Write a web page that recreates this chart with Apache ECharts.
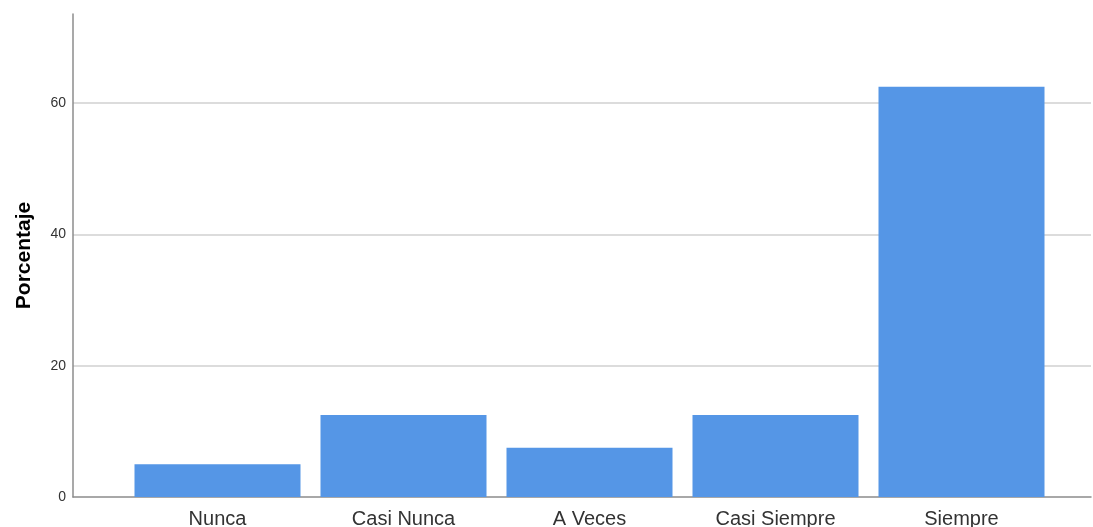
<!DOCTYPE html>
<html>
<head>
<meta charset="utf-8">
<script src="https://cdn.jsdelivr.net/npm/echarts@6/dist/echarts.min.js"></script>
<style>
html,body{margin:0;padding:0;background:#fff;}
#chart{width:1093px;height:527px;}
</style>
</head>
<body>
<div id="chart"></div>
<script>
const categories = ['Nunca', 'Casi Nunca', 'A Veces', 'Casi Siempre', 'Siempre'];
const percentages = [5.0, 12.5, 7.5, 12.5, 62.5];
const yTicks = [0, 20, 40, 60];
const yMax = 73.6;

const chart = echarts.init(document.getElementById('chart'));
const font = 'Arial, "Liberation Sans", sans-serif';
chart.setOption({
  animation: false,
  backgroundColor: '#ffffff',
  grid: [
    {left: 73, right: 2, top: 14, bottom: 30, containLabel: false, outerBoundsMode: 'none'},
    {left: 124.5, width: 930, top: 14, bottom: 30, containLabel: false, outerBoundsMode: 'none'}
  ],
  xAxis: [
    {gridIndex: 0, type: 'value', min: 0, max: 1,
     axisLine: {show: true, lineStyle: {color: '#8c8c8c', width: 1.5}},
     axisTick: {show: false}, axisLabel: {show: false}, splitLine: {show: false}},
    {gridIndex: 1, type: 'category', data: categories,
     axisLine: {show: false}, axisTick: {show: false},
     axisLabel: {margin: 12, color: '#333333', fontSize: 20, fontFamily: font}}
  ],
  yAxis: [
    {gridIndex: 0, type: 'value', min: 0, max: yMax, interval: 20,
     name: 'Porcentaje', nameLocation: 'middle', nameGap: 38, nameRotate: 90,
     nameTextStyle: {fontSize: 21, fontWeight: 'bold', color: '#000', fontFamily: font},
     axisLine: {show: true, lineStyle: {color: '#8c8c8c', width: 1.5}},
     axisTick: {show: false},
     axisLabel: {margin: 7, color: '#333333', fontSize: 14, fontFamily: font, showMaxLabel: false,
       formatter: v => yTicks.includes(v) ? String(v) : ''},
     splitLine: {show: true, showMinLine: false, showMaxLine: false, lineStyle: {color: '#d0d0d0', width: 1.5}}},
    {gridIndex: 1, type: 'value', min: 0, max: yMax,
     axisLine: {show: false}, axisTick: {show: false}, axisLabel: {show: false}, splitLine: {show: false}}
  ],
  series: [{
    type: 'bar', xAxisIndex: 1, yAxisIndex: 1,
    data: percentages, barWidth: 166,
    itemStyle: {color: '#5596e6'}
  }]
});
</script>
</body>
</html>
